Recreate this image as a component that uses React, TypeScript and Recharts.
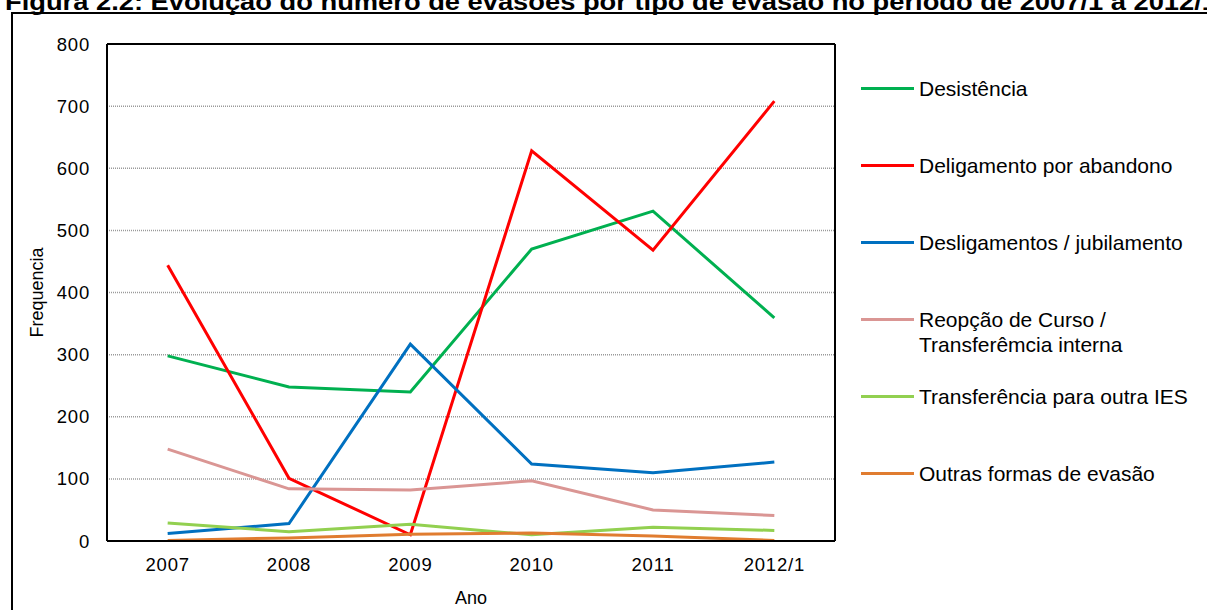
import React from 'react';
import { LineChart, Line, XAxis, YAxis, CartesianGrid } from 'recharts';

const categories = ['2007', '2008', '2009', '2010', '2011', '2012/1'];
const desistencia = [298, 248, 240, 470, 531, 359];
const deligamento = [444, 101, 10, 628, 468, 708];
const desligamentos = [12, 28, 317, 124, 110, 127];
const reopcao = [148, 84, 82, 97, 50, 41];
const transferencia = [29, 15, 27, 10, 22, 17];
const outras = [1, 5, 11, 13, 8, 1];
const yTicks = [0, 100, 200, 300, 400, 500, 600, 700, 800];

const seriesKeys = ['desistencia', 'deligamento', 'desligamentos', 'reopcao', 'transferencia', 'outras'];
const seriesNames = [
  ['Desistência'],
  ['Deligamento por abandono'],
  ['Desligamentos / jubilamento'],
  ['Reopção de Curso /', 'Transferêmcia interna'],
  ['Transferência para outra IES'],
  ['Outras formas de evasão'],
];
const seriesColors = ['#00B050', '#FF0000', '#0070C0', '#DA9694', '#92D050', '#E07C30'];
const seriesValues = [desistencia, deligamento, desligamentos, reopcao, transferencia, outras];

const titleText = 'Figura 2.2: Evolução do número de evasões por tipo de evasão no período de 2007/1 a 2012/1';

const data = categories.map((c, i) => {
  const row: Record<string, string | number> = { year: c };
  seriesKeys.forEach((k, s) => {
    row[k] = seriesValues[s][i];
  });
  return row;
});

const FONT = '"Liberation Sans", Arial, Helvetica, sans-serif';

const YLabel = (props: any) => {
  const vb = props.viewBox || {};
  const cx = 37;
  const cy = vb.y + vb.height / 2;
  return (
    <text
      x={cx}
      y={cy}
      transform={`rotate(-90, ${cx}, ${cy})`}
      textAnchor="middle"
      dominantBaseline="central"
      fontSize={18}
      fontFamily={FONT}
      fill="#000"
    >
      Frequencia
    </text>
  );
};

export default function App() {
  return (
    <div style={{ position: 'absolute', left: 0, top: 0, width: 1207, height: 610, overflow: 'hidden', background: '#fff' }}>
      <svg width={1207} height={20} style={{ position: 'absolute', left: 0, top: 0 }}>
        <text
          x={5}
          y={9.5}
          fontSize={24}
          fontWeight="bold"
          fontFamily={FONT}
          textLength={1212}
          lengthAdjust="spacingAndGlyphs"
          fill="#000"
        >
          {titleText}
        </text>
      </svg>
      <div
        style={{
          position: 'absolute',
          left: 11,
          top: 12,
          width: 1220,
          height: 620,
          border: '2px solid #000',
          boxSizing: 'border-box',
        }}
      />
      <div style={{ position: 'absolute', left: 0, top: 0 }}>
        <LineChart width={1207} height={610} data={data} margin={{ top: 43, right: 371, bottom: 0, left: 20 }}>
          <CartesianGrid vertical={false} stroke="#9a9a9a" strokeDasharray="1 1" strokeWidth={1.5} />
          <XAxis
            dataKey="year"
            scale="band"
            height={69}
            tickLine={false}
            tickSize={0}
            tickMargin={17}
            axisLine={{ stroke: '#000', strokeWidth: 2 }}
            tick={{ fontSize: 18.5, fill: '#000', fontFamily: FONT, letterSpacing: 0.8 }}
            label={{ value: 'Ano', position: 'insideBottom', offset: 6, fontSize: 18, fill: '#000', fontFamily: FONT }}
          />
          <XAxis
            xAxisId="top"
            dataKey="year"
            scale="band"
            orientation="top"
            height={1}
            tick={false}
            tickLine={false}
            axisLine={{ stroke: '#000', strokeWidth: 2 }}
          />
          <YAxis
            domain={[0, 800]}
            ticks={yTicks}
            width={87}
            tickLine={false}
            tickSize={0}
            tickMargin={17}
            interval={0}
            axisLine={{ stroke: '#000', strokeWidth: 2 }}
            tick={{ fontSize: 18.5, fill: '#000', fontFamily: FONT, letterSpacing: 0.8 }}
            label={<YLabel />}
          />
          <YAxis
            yAxisId="right"
            orientation="right"
            width={1}
            domain={[0, 800]}
            tick={false}
            tickLine={false}
            axisLine={{ stroke: '#000', strokeWidth: 2 }}
          />
          {seriesKeys.map((k, i) => (
            <Line
              key={k}
              type="linear"
              dataKey={k}
              stroke={seriesColors[i]}
              strokeWidth={3}
              dot={false}
              activeDot={false}
              isAnimationActive={false}
            />
          ))}
        </LineChart>
      </div>
      {seriesKeys.map((k, i) => {
        const cy = 88 + i * 77;
        return (
          <React.Fragment key={k}>
            <div
              style={{
                position: 'absolute',
                left: 861,
                top: cy - 1.5,
                width: 53,
                height: 3,
                background: seriesColors[i],
              }}
            />
            <div
              style={{
                position: 'absolute',
                left: 919,
                top: cy - 12.5,
                fontSize: 21,
                lineHeight: '25px',
                fontFamily: FONT,
                color: '#000',
                whiteSpace: 'nowrap',
              }}
            >
              {seriesNames[i].map((line, j) => (
                <div key={j}>{line}</div>
              ))}
            </div>
          </React.Fragment>
        );
      })}
    </div>
  );
}
